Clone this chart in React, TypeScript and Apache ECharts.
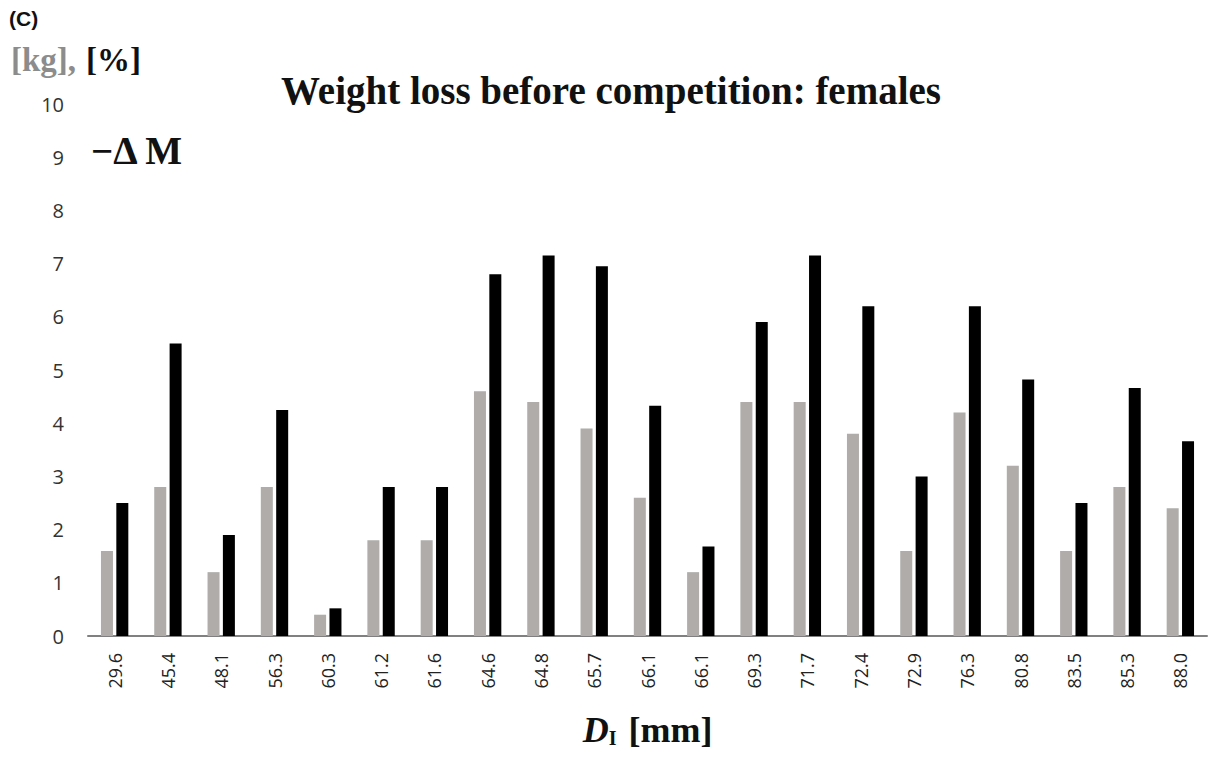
import React, { useEffect, useRef } from "react";
import * as echarts from "echarts";

const categories = ["29.6","45.4","48.1","56.3","60.3","61.2","61.6","64.6","64.8","65.7","66.1","66.1","69.3","71.7","72.4","72.9","76.3","80.8","83.5","85.3","88.0"];
const lossKg = [1.6,2.8,1.2,2.8,0.4,1.8,1.8,4.6,4.4,3.9,2.6,1.2,4.4,4.4,3.8,1.6,4.2,3.2,1.6,2.8,2.4];
const lossPct = [2.5,5.5,1.9,4.25,0.52,2.8,2.8,6.8,7.15,6.95,4.33,1.68,5.9,7.15,6.2,3.0,6.2,4.82,2.5,4.66,3.66];
const yTicks = [0,1,2,3,4,5,6,7,8,9,10];

export default function App() {
  const ref = useRef<HTMLDivElement>(null);
  useEffect(() => {
    if (!ref.current) return;
    const chart = echarts.init(ref.current, null, { renderer: "svg" });
    const serif = "'Liberation Serif', 'DejaVu Serif', serif";
    const sans = "'Open Sans', 'Noto Sans', sans-serif";
    chart.setOption({
      animation: false,
      backgroundColor: "#ffffff",
      title: {
        text: "Weight loss before competition: females",
        left: 606,
        textAlign: "center",
        top: 66,
        textStyle: { fontFamily: serif, fontWeight: "bold", fontSize: 39, color: "#111" },
      },
      grid: { left: 88, right: 6, top: 104, bottom: 121 },
      xAxis: {
        type: "category",
        data: categories,
        axisLine: { lineStyle: { color: "#808080", width: 2 } },
        axisTick: { show: false },
        axisLabel: {
          rotate: 90,
          interval: 0,
          margin: 17,
          fontFamily: sans,
          fontSize: 18,
          color: "#222",
        },
        name: "{d|D}{s|I}{g| }{u|[mm]}",
        nameLocation: "middle",
        nameGap: 76,
        nameTextStyle: {
          rich: {
            d: { fontFamily: serif, fontStyle: "italic", fontWeight: "bold", fontSize: 36, color: "#111" },
            s: { fontFamily: serif, fontWeight: "bold", fontSize: 20, color: "#111", padding: [16, 0, 0, 0] },
            g: { fontFamily: serif, fontSize: 36, width: 12 },
            u: { fontFamily: serif, fontWeight: "bold", fontSize: 36, color: "#111" },
          },
        },
      },
      yAxis: {
        type: "value",
        min: yTicks[0],
        max: yTicks[yTicks.length - 1],
        interval: 1,
        axisLine: { show: false },
        axisTick: { show: false },
        splitLine: { show: false },
        axisLabel: {
          margin: 24,
          fontFamily: sans,
          fontSize: 20,
          color: "#333",
        },
      },
      series: [
        {
          name: "[kg]",
          type: "bar",
          data: lossKg,
          barWidth: 12,
          barGap: "28%",
          itemStyle: { color: "#afacaa" },
        },
        {
          name: "[%]",
          type: "bar",
          data: lossPct,
          barWidth: 12,
          itemStyle: { color: "#000000" },
        },
      ],
      graphic: [
        { type: "text", left: 9, top: 8, style: { text: "(C)", fontFamily: "'Liberation Sans', Arial, sans-serif", fontWeight: "bold", fontSize: 21, fill: "#111" } },
        { type: "text", left: 11, top: 43, style: { text: "[kg],", fontFamily: serif, fontWeight: "bold", fontSize: 33, fill: "#8c8c8c" } },
        { type: "text", left: 86, top: 43, style: { text: "[%]", fontFamily: serif, fontWeight: "bold", fontSize: 33, fill: "#111" } },
        { type: "text", left: 91, top: 131, style: { text: "−Δ M", fontFamily: serif, fontWeight: "bold", fontSize: 39, fill: "#111" } },
      ],
    });
    return () => chart.dispose();
  }, []);
  return (
    <div
      ref={ref}
      style={{ position: "fixed", left: 0, top: 0, width: 1213, height: 757, background: "#fff" }}
    />
  );
}
